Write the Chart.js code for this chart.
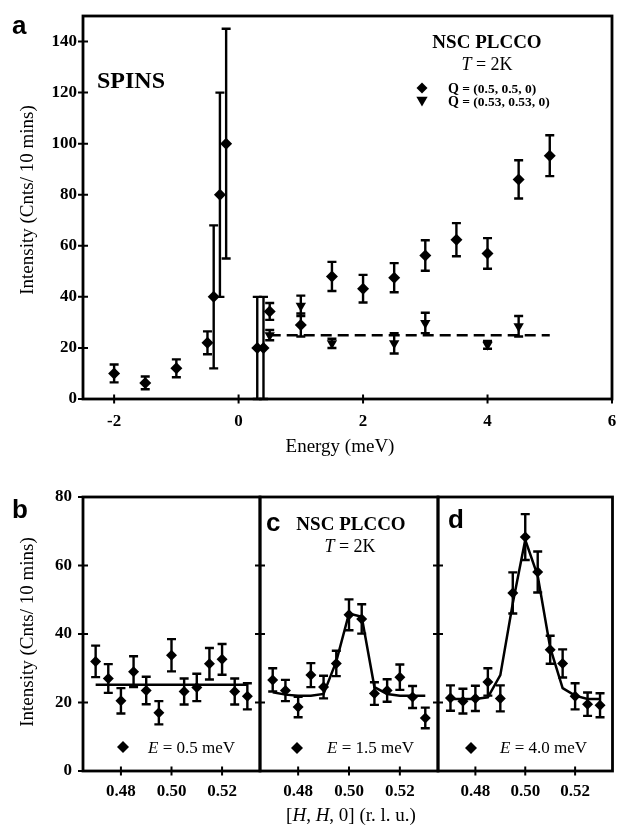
<!DOCTYPE html>
<html>
<head>
<meta charset="utf-8">
<title>NSC PLCCO - SPINS</title>
<script src="https://cdn.jsdelivr.net/npm/chart.js@4.4.0/dist/chart.umd.min.js"></script>
<style>
body { margin: 0; background: #fff; }
.wrap { position: relative; width: 618px; height: 833px; }
.wrap canvas { position: absolute; left: 0; top: 0; }
</style>
</head>
<body>
<div class="wrap">
    <canvas id="chA" width="618" height="833"></canvas>
    <canvas id="chB" width="618" height="833"></canvas>
    <canvas id="chC" width="618" height="833"></canvas>
    <canvas id="chD" width="618" height="833"></canvas>
</div>
<script>
// panel a : energy scans
const energyQ1 = [-2, -1.5, -1, -0.5, -0.4, -0.3, -0.2, 0.3, 0.4, 0.5, 1, 1.5, 2, 2.5, 3, 3.5, 4, 4.5, 5];
const intQ1 = [10, 6.3, 12, 22, 40, 80, 100, 20, 20, 34.3, 29, 48, 43.2, 47.5, 56.2, 62.4, 57, 86, 95.3];
const errQ1 = [3.5, 2.5, 3.5, 4.5, 28, 40, 45, 20, 20, 3.3, 4.5, 5.7, 5.4, 5.7, 6, 6.5, 6, 7.5, 8];
const energyQ2 = [0.5, 1, 1.5, 2.5, 3, 4, 4.5];
const intQ2 = [25, 36.5, 21.8, 21.8, 29.8, 21.2, 28.5];
const errQ2 = [2, 4, 1.8, 4, 4, 1.5, 4];
const levelX = [0.5, 5];
const levelY = [25, 25];
const xTicksA = [-2, 0, 2, 4, 6];
const yTicksA = [0, 20, 40, 60, 80, 100, 120, 140];

// panels b, c, d : Q scans at fixed energy
const hh = [0.47, 0.475, 0.48, 0.485, 0.49, 0.495, 0.5, 0.505, 0.51, 0.515, 0.52, 0.525, 0.53];
const intB = [32, 27, 20.5, 29, 23.5, 17, 33.8, 23.2, 24.4, 31.3, 32.6, 23.2, 21.8];
const errB = [4.6, 4.2, 3.7, 4.5, 4, 3.4, 4.7, 3.8, 4, 4.6, 4.5, 3.8, 3.8];
const fitBX = [0.47, 0.53];
const fitBY = [25.2, 25.2];
const intC = [26.6, 23.5, 18.7, 28, 24.5, 31.4, 45.6, 44.4, 22.6, 23.5, 27.4, 21.6, 15.5];
const errC = [3.4, 3.1, 3, 3.5, 3.3, 3.7, 4.5, 4.3, 3.3, 3.3, 3.7, 3.2, 3];
const fitC = [23, 22.3, 22, 22, 22.5, 32, 46, 45, 24.5, 22.5, 22, 22, 22];
const intD = [21.3, 20.4, 21.2, 26, 21.2, 52, 68.3, 58.1, 35.4, 31.4, 21.8, 19.5, 19.2];
const errD = [3.7, 3.6, 3.7, 4, 3.8, 6, 6.7, 6, 4.1, 4.1, 3.8, 3.4, 3.5];
const fitD = [21, 21, 21, 21.5, 28, 49, 67.5, 57, 36, 24.2, 22, 21, 21];
const xTicksQ = [0.48, 0.50, 0.52];
const yTicksQ = [0, 20, 40, 60, 80];

const SERIF = "'Liberation Serif', 'DejaVu Serif', serif";
const SANS = "'Liberation Sans', Arial, sans-serif";

function pts(xs, ys) { return xs.map((x, i) => ({ x: x, y: ys[i] })); }

// error bars, frame and crossing tick marks
const decor = {
    id: 'decor',
    beforeDatasetsDraw(chart, args, opts) {
        const ctx = chart.ctx, xs = chart.scales.x, ys = chart.scales.y;
        ctx.save();
        ctx.strokeStyle = '#000';
        ctx.lineWidth = 2.4;
        chart.data.datasets.forEach(ds => {
            if (!ds.err) return;
            ds.data.forEach((p, i) => {
                const e = ds.err[i];
                const px = xs.getPixelForValue(p.x);
                const t = ys.getPixelForValue(p.y + e);
                const b = ys.getPixelForValue(Math.max(p.y - e, 0));
                ctx.beginPath();
                ctx.moveTo(px, t); ctx.lineTo(px, b);
                ctx.moveTo(px - opts.cap, t); ctx.lineTo(px + opts.cap, t);
                ctx.moveTo(px - opts.cap, b); ctx.lineTo(px + opts.cap, b);
                ctx.stroke();
            });
        });
        ctx.restore();
    },
    afterDraw(chart) {
        const ctx = chart.ctx, a = chart.chartArea, xs = chart.scales.x, ys = chart.scales.y;
        ctx.save();
        ctx.strokeStyle = '#000';
        ctx.lineWidth = 2.8;
        ctx.strokeRect(a.left, a.top, a.right - a.left, a.bottom - a.top);
        ctx.lineWidth = 2;
        ctx.beginPath();
        xs.ticks.forEach(t => {
            const p = xs.getPixelForValue(t.value);
            ctx.moveTo(p, a.bottom - 4.5); ctx.lineTo(p, a.bottom + 4.5);
        });
        ys.ticks.forEach(t => {
            const p = ys.getPixelForValue(t.value);
            ctx.moveTo(a.left - 5, p); ctx.lineTo(a.left + 5, p);
        });
        ctx.stroke();
        ctx.restore();
    }
};

function runs(ctx, parts, x, y, align) {
    let w = 0;
    parts.forEach(p => { ctx.font = p[1]; w += ctx.measureText(p[0]).width; });
    let cx = align === 'center' ? x - w / 2 : x;
    ctx.textAlign = 'left';
    ctx.textBaseline = 'alphabetic';
    ctx.fillStyle = '#000';
    parts.forEach(p => { ctx.font = p[1]; ctx.fillText(p[0], cx, y); cx += ctx.measureText(p[0]).width; });
}

function diamond(ctx, x, y, r) {
    ctx.beginPath();
    ctx.moveTo(x - r, y); ctx.lineTo(x, y - r); ctx.lineTo(x + r, y); ctx.lineTo(x, y + r);
    ctx.closePath(); ctx.fill();
}

function downTri(ctx, x, y, r) {
    ctx.beginPath();
    ctx.moveTo(x, y + r);
    ctx.lineTo(x - r * 0.866, y - r / 2);
    ctx.lineTo(x + r * 0.866, y - r / 2);
    ctx.closePath(); ctx.fill();
}

function vtext(ctx, s, x, y, font) {
    ctx.save();
    ctx.translate(x, y);
    ctx.rotate(-Math.PI / 2);
    ctx.font = font;
    ctx.fillStyle = '#000';
    ctx.textAlign = 'center';
    ctx.textBaseline = 'alphabetic';
    ctx.fillText(s, 0, 0);
    ctx.restore();
}

function scales(o) {
    const zeroPad = s => { s.paddingLeft = 0; s.paddingRight = 0; s.paddingTop = 0; s.paddingBottom = 0; };
    return {
        x: {
            type: 'linear', min: o.xmin, max: o.xmax,
            grid: { display: false, drawTicks: false }, border: { display: false },
            ticks: {
                color: '#000', padding: o.xpad, autoSkip: false, maxRotation: 0,
                font: { family: SERIF, size: o.fs, weight: 'bold' },
                callback: o.xfmt
            },
            afterBuildTicks: s => { s.ticks = o.xticks.map(v => ({ value: v })); },
            afterFit: s => { s.height = o.xh; zeroPad(s); }
        },
        y: {
            type: 'linear', min: o.ymin, max: o.ymax,
            grid: { display: false, drawTicks: false }, border: { display: false },
            ticks: {
                display: o.ylabels, color: '#000', padding: o.ypad, autoSkip: false,
                font: { family: SERIF, size: o.fs, weight: 'bold' }
            },
            afterBuildTicks: s => { s.ticks = o.yticks.map(v => ({ value: v })); },
            afterFit: s => { s.width = o.yw; zeroPad(s); }
        }
    };
}

function baseOptions(padding, sc, cap) {
    return {
        responsive: false,
        animation: false,
        layout: { padding: padding },
        scales: sc,
        plugins: { legend: { display: false }, tooltip: { enabled: false }, decor: { cap: cap } }
    };
}

// ---------- panel a ----------
const textA = {
    id: 'textA',
    afterDraw(chart) {
        const ctx = chart.ctx;
        ctx.save();
        runs(ctx, [['a', 'bold 26px ' + SANS]], 12, 34, 'left');
        runs(ctx, [['SPINS', 'bold 24px ' + SERIF]], 97, 88, 'left');
        runs(ctx, [['NSC PLCCO', 'bold 19px ' + SERIF]], 487, 48, 'center');
        runs(ctx, [['T', 'italic 18px ' + SERIF], [' = 2K', '18px ' + SERIF]], 487, 70, 'center');
        diamond(ctx, 422, 88, 5.5);
        downTri(ctx, 422, 100, 6.5);
        runs(ctx, [['Q', 'bold 14px ' + SERIF], [' = (0.5, 0.5, 0)', 'bold 13.5px ' + SERIF]], 448, 93, 'left');
        runs(ctx, [['Q', 'bold 14px ' + SERIF], [' = (0.53, 0.53, 0)', 'bold 13.5px ' + SERIF]], 448, 106, 'left');
        runs(ctx, [['Energy (meV)', '19px ' + SERIF]], 340, 452, 'center');
        vtext(ctx, 'Intensity (Cnts/ 10 mins)', 33, 200, '19px ' + SERIF);
        ctx.restore();
    }
};

new Chart(document.getElementById('chA'), {
    type: 'scatter',
    data: {
        datasets: [
            { data: pts(energyQ1, intQ1), err: errQ1, pointStyle: 'rectRot', pointRadius: 6, backgroundColor: '#000', borderWidth: 0 },
            { data: pts(energyQ2, intQ2), err: errQ2, pointStyle: 'triangle', pointRotation: 180, pointRadius: 6, backgroundColor: '#000', borderWidth: 0 },
            { data: pts(levelX, levelY), showLine: true, borderColor: '#000', borderWidth: 2.5, borderDash: [11, 6], pointRadius: 0 }
        ]
    },
    options: baseOptions({ left: 0, top: 16, right: 5, bottom: 373 },
        scales({ xmin: -2.5, xmax: 6, ymin: 0, ymax: 150, xticks: xTicksA, yticks: yTicksA, xfmt: v => String(v),
                 fs: 17, xpad: 12, ypad: 6, xh: 61, yw: 83, ylabels: true }), 4.5),
    plugins: [decor, textA]
});

// ---------- panels b, c, d ----------
function qPanel(id, pad, yw, ylabels, ys, es, fitX, fitY, extra) {
    return new Chart(document.getElementById(id), {
        type: 'scatter',
        data: {
            datasets: [
                { data: pts(hh, ys), err: es, pointStyle: 'rectRot', pointRadius: 5.5, backgroundColor: '#000', borderWidth: 0 },
                { data: pts(fitX, fitY), showLine: true, borderColor: '#000', borderWidth: 2.5, pointRadius: 0, tension: 0 }
            ]
        },
        options: baseOptions(pad,
            scales({ xmin: 0.465, xmax: 0.535, ymin: 0, ymax: 80, xticks: xTicksQ, yticks: yTicksQ, xfmt: v => v.toFixed(2),
                     fs: 17, xpad: 10, ypad: 11, xh: 60, yw: yw, ylabels: ylabels }), 4.5),
        plugins: [decor, extra]
    });
}

qPanel('chB', { left: 0, top: 497, right: 358, bottom: 2 }, 83, true, intB, errB, fitBX, fitBY, {
    id: 'textB',
    afterDraw(chart) {
        const ctx = chart.ctx;
        ctx.save();
        runs(ctx, [['b', 'bold 26px ' + SANS]], 12, 518, 'left');
        diamond(ctx, 123, 747, 6);
        runs(ctx, [['E', 'italic 17px ' + SERIF], [' = 0.5 meV', '17px ' + SERIF]], 148, 753, 'left');
        vtext(ctx, 'Intensity (Cnts/ 10 mins)', 33, 632, '19px ' + SERIF);
        ctx.restore();
    }
});

qPanel('chC', { left: 260, top: 497, right: 180, bottom: 2 }, 0, false, intC, errC, hh, fitC, {
    id: 'textC',
    afterDraw(chart) {
        const ctx = chart.ctx;
        ctx.save();
        runs(ctx, [['c', 'bold 26px ' + SANS]], 266, 531, 'left');
        runs(ctx, [['NSC PLCCO', 'bold 19px ' + SERIF]], 351, 530, 'center');
        runs(ctx, [['T', 'italic 18px ' + SERIF], [' = 2K', '18px ' + SERIF]], 350, 552, 'center');
        diamond(ctx, 297, 748, 6);
        runs(ctx, [['E', 'italic 17px ' + SERIF], [' = 1.5 meV', '17px ' + SERIF]], 327, 753, 'left');
        runs(ctx, [['[', '19px ' + SERIF], ['H', 'italic 19px ' + SERIF], [', ', '19px ' + SERIF],
                   ['H', 'italic 19px ' + SERIF], [', 0] (r. l. u.)', '19px ' + SERIF]], 351, 821, 'center');
        ctx.restore();
    }
});

qPanel('chD', { left: 438, top: 497, right: 3, bottom: 2 }, 0, false, intD, errD, hh, fitD, {
    id: 'textD',
    afterDraw(chart) {
        const ctx = chart.ctx;
        ctx.save();
        runs(ctx, [['d', 'bold 26px ' + SANS]], 448, 528, 'left');
        diamond(ctx, 471, 748, 6);
        runs(ctx, [['E', 'italic 17px ' + SERIF], [' = 4.0 meV', '17px ' + SERIF]], 500, 753, 'left');
        ctx.restore();
    }
});
</script>
</body>
</html>
